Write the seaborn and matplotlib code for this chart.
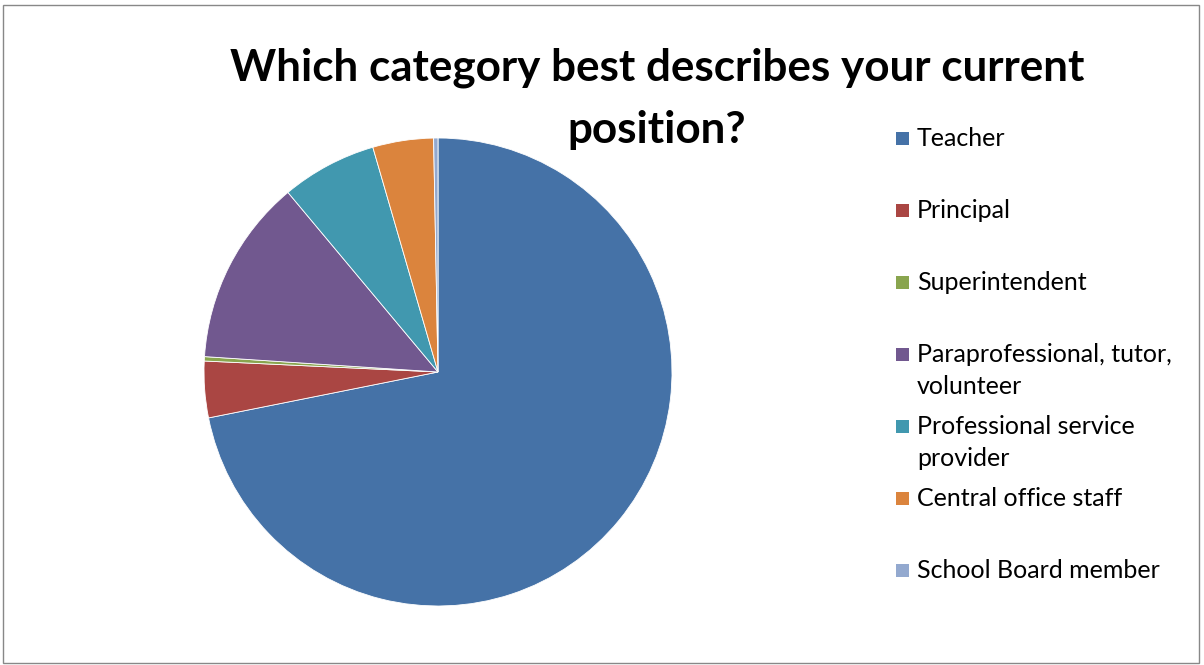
import matplotlib
matplotlib.use("Agg")
import matplotlib.pyplot as plt
import seaborn as sns
from matplotlib.patches import Rectangle

categories = ["Teacher", "Principal", "Superintendent",
              "Paraprofessional, tutor,\nvolunteer",
              "Professional service\nprovider",
              "Central office staff", "School Board member"]
shares = [72.0, 3.9, 0.3, 12.9, 6.6, 4.2, 0.3]
colors = ["#4572A7", "#AA4643", "#89A54E", "#71588F", "#4198AF", "#DB843D", "#93A9CF"]

sns.set_style("white")
plt.rcParams['font.family'] = ['Lato', 'DejaVu Sans']
palette = sns.color_palette(colors)

W, H = 1204, 665
fig = plt.figure(figsize=(W / 100, H / 100), dpi=100)

# pie axes: center (438, 372), radius 234 px
cx, cy, r = 438, 372, 234
ax = fig.add_axes([(cx - r) / W, (H - cy - r) / H, 2 * r / W, 2 * r / H])
ax.pie(shares, colors=palette, startangle=90, counterclock=False,
       radius=1, wedgeprops=dict(edgecolor="white", linewidth=0.6))
ax.set_xlim(-1, 1)
ax.set_ylim(-1, 1)
ax.set_aspect("equal")
ax.axis("off")

# title
fig.text(657 / W, 1 - 81 / H, "Which category best describes your current",
         ha="center", va="baseline", fontsize=31.7, fontweight="bold",
         color="black")
fig.text(657 / W, 1 - 143 / H, "position?",
         ha="center", va="baseline", fontsize=31.7, fontweight="bold",
         color="black")

# legend drawn by hand to mimic the spacing
for i, (lab, col) in enumerate(zip(categories, palette)):
    y = 138 + 72 * i
    fig.patches.append(Rectangle((896 / W, 1 - (y + 7) / H), 13 / W, 13 / H,
                                 transform=fig.transFigure, facecolor=col,
                                 edgecolor="none"))
    fig.text(917 / W, 1 - (y + 8) / H, lab.split("\n")[0], ha="left",
             va="baseline", fontsize=18, color="black")
    if "\n" in lab:
        fig.text(917 / W, 1 - (y + 40) / H, lab.split("\n")[1], ha="left",
                 va="baseline", fontsize=18, color="black")

# chart border
fig.patches.append(Rectangle((3 / W, 2 / H), 1196 / W, 658 / H,
                             transform=fig.transFigure, facecolor="none",
                             edgecolor="#888888", linewidth=1))

fig.savefig("out.png", dpi=100)
